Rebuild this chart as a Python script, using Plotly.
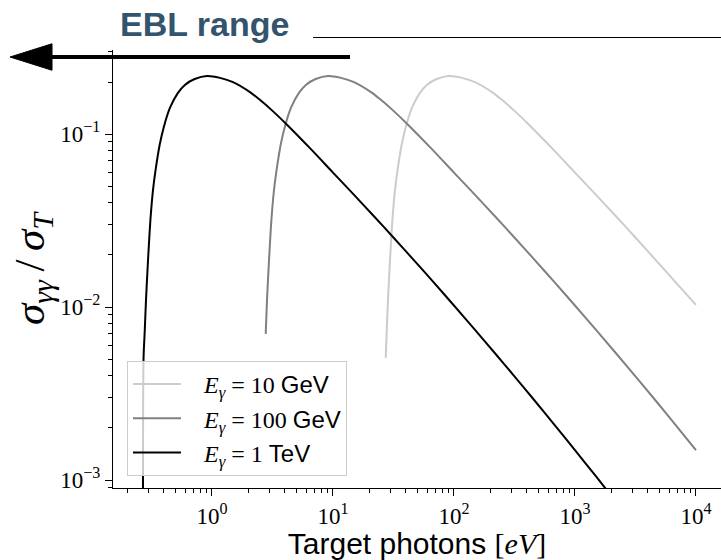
import plotly.graph_objects as go

# ---- data (target photon energy [eV], sigma_gg / sigma_T) ----
X_1TEV = [0.269, 0.272, 0.278, 0.285, 0.292, 0.30, 0.31, 0.325, 0.342, 0.37, 0.40, 0.45, 0.52,
          0.60, 0.72, 0.909, 1.164, 1.491, 2.061, 2.446, 3.133, 4.168, 6.455, 10, 15, 22, 32,
          46, 68, 100, 150, 220, 320, 460, 680, 1000, 1500, 2000]
Y_1TEV = [0.0007, 0.0051, 0.0072, 0.0110, 0.0155, 0.022, 0.032, 0.047, 0.062, 0.087, 0.110,
          0.142, 0.172, 0.193, 0.208, 0.2165, 0.2113, 0.1998, 0.1749, 0.1593, 0.1371, 0.1133,
          0.0829, 0.0599, 0.04437, 0.03328, 0.0250, 0.01887, 0.01389, 0.01021, 0.00736,
          0.00537, 0.003939, 0.002902, 0.00208, 0.00149, 0.001045, 0.000809]

X_100GEV = [2.78, 2.85, 2.92, 3.0, 3.1, 3.25, 3.42, 3.7, 4.0, 4.5, 5.2, 6.0, 7.2, 9.09, 11.64,
            14.91, 20.61, 24.46, 31.33, 41.68, 64.55, 100, 150, 220, 320, 460, 680, 1000,
            1500, 2200, 3200, 4600, 6800, 10000]
Y_100GEV = [0.0070, 0.0110, 0.0155, 0.022, 0.032, 0.047, 0.062, 0.087, 0.110, 0.142, 0.172,
            0.193, 0.208, 0.2165, 0.2113, 0.1998, 0.1749, 0.1593, 0.1371, 0.1133, 0.0829,
            0.0599, 0.04437, 0.03328, 0.0250, 0.01887, 0.01389, 0.01021, 0.00736, 0.00537,
            0.003939, 0.002902, 0.00208, 0.00149]

X_10GEV = [27.3, 27.8, 28.5, 29.2, 30, 31, 32.5, 34.2, 37, 40, 45, 52, 60, 72, 90.9, 116.4,
           149.1, 206.1, 244.6, 313.3, 416.8, 645.5, 1000, 1500, 2200, 3200, 4600, 6800, 10000]
Y_10GEV = [0.0051, 0.0072, 0.0110, 0.0155, 0.022, 0.032, 0.047, 0.062, 0.087, 0.110, 0.142,
           0.172, 0.193, 0.208, 0.2165, 0.2113, 0.1998, 0.1749, 0.1593, 0.1371, 0.1133,
           0.0829, 0.0599, 0.04437, 0.03328, 0.0250, 0.01887, 0.01389, 0.0103]

SERIES = [
    ("10", "GeV", X_10GEV, Y_10GEV, "#cccccc"),
    ("100", "GeV", X_100GEV, Y_100GEV, "#808080"),
    ("1", "TeV", X_1TEV, Y_1TEV, "#000000"),
]

X_TICKS = [1, 10, 100, 1000, 10000]
X_TICK_TEXT = ["10<sup>0</sup>", "10<sup>1</sup>", "10<sup>2</sup>", "10<sup>3</sup>", "10<sup>4</sup>"]
Y_TICKS = [0.001, 0.01, 0.1]
Y_TICK_TEXT = ["10<sup>\u22123</sup>", "10<sup>\u22122</sup>", "10<sup>\u22121</sup>"]

SERIF = "Liberation Serif"
SANS = "Liberation Sans"

fig = go.Figure()
for num, unit, xs, ys, col in SERIES:
    name = (f'\u00a0\u00a0\u00a0<i>E</i><sub><i>\u03b3</i></sub> = {num} '
            f'<span style="font-family:{SANS}">{unit}</span>')
    fig.add_trace(go.Scatter(x=xs, y=ys, mode="lines", name=name,
                             line=dict(color=col, width=2, shape="spline", smoothing=0.8)))

minor_x = [m * 10 ** e for e in range(-1, 5) for m in range(2, 10)]
minor_y = [m * 10 ** e for e in range(-4, 0) for m in range(2, 10)]

fig.update_xaxes(type="log", range=[-0.818, 4.207], showgrid=False, zeroline=False,
                 automargin=False,
                 showline=True, linecolor="black", linewidth=1, mirror=False,
                 ticks="outside", ticklen=7, tickwidth=1, tickcolor="black",
                 tickvals=X_TICKS, ticktext=X_TICK_TEXT,
                 tickfont=dict(family=SERIF, size=23, color="black"),
                 minor=dict(ticks="outside", ticklen=4, tickwidth=1, tickcolor="black",
                            tickvals=minor_x, showgrid=False),
                 title=dict(text=f'Target photons <span style="font-family:{SERIF}">[<i>eV</i>]</span>',
                            font=dict(family=SANS, size=30, color="black"), standoff=2))
fig.update_yaxes(type="log", range=[-3.046, -0.514], showgrid=False, zeroline=False,
                 automargin=False,
                 showline=True, linecolor="black", linewidth=1, mirror=False,
                 ticks="outside", ticklen=7, tickwidth=1, tickcolor="black",
                 tickvals=Y_TICKS, ticktext=Y_TICK_TEXT,
                 tickfont=dict(family=SERIF, size=23, color="black"),
                 minor=dict(ticks="outside", ticklen=4, tickwidth=1, tickcolor="black",
                            tickvals=minor_y, showgrid=False),
                 title=dict(text="<i>\u03c3</i><sub><i>\u03b3\u03b3</i></sub>\u2009/\u2009<i>\u03c3</i><sub><i>T</i></sub>",
                            font=dict(family=SERIF, size=43, color="black"), standoff=0))

# Decorations: "EBL range" arrow and header line
fig.add_shape(type="line", xref="paper", yref="paper", x0=0.329, x1=1.0, y0=1.0285, y1=1.0285,
              line=dict(color="black", width=1))
fig.add_shape(type="line", xref="paper", yref="paper", x0=-0.102, x1=0.3898, y0=0.984, y1=0.984,
              line=dict(color="black", width=4))
fig.add_shape(type="path", xref="paper", yref="paper",
              path="M -0.1694 0.984 L -0.1003 1.0143 L -0.1003 0.9537 Z",
              fillcolor="black", line=dict(color="black", width=1))
fig.add_annotation(xref="paper", yref="paper", x=0.151, y=1.060, xanchor="center", yanchor="middle",
                   text="<b>EBL range</b>", showarrow=False,
                   font=dict(family=SANS, size=34, color="#34546e"))

fig.update_layout(
    width=721, height=560,
    margin=dict(l=113, r=0, t=50, b=72, autoexpand=False),
    paper_bgcolor="white", plot_bgcolor="white",
    showlegend=True,
    legend=dict(x=0.023, y=0.29, xanchor="left", yanchor="top",
                bgcolor="rgba(255,255,255,0.8)", bordercolor="#cccccc", borderwidth=1,
                font=dict(family=SERIF, size=24, color="black"),
                tracegroupgap=0, itemwidth=48),
)

fig.write_html("out.html", config={"displayModeBar": False},
               post_script="document.body.style.margin='0';document.body.style.overflow='hidden';")
